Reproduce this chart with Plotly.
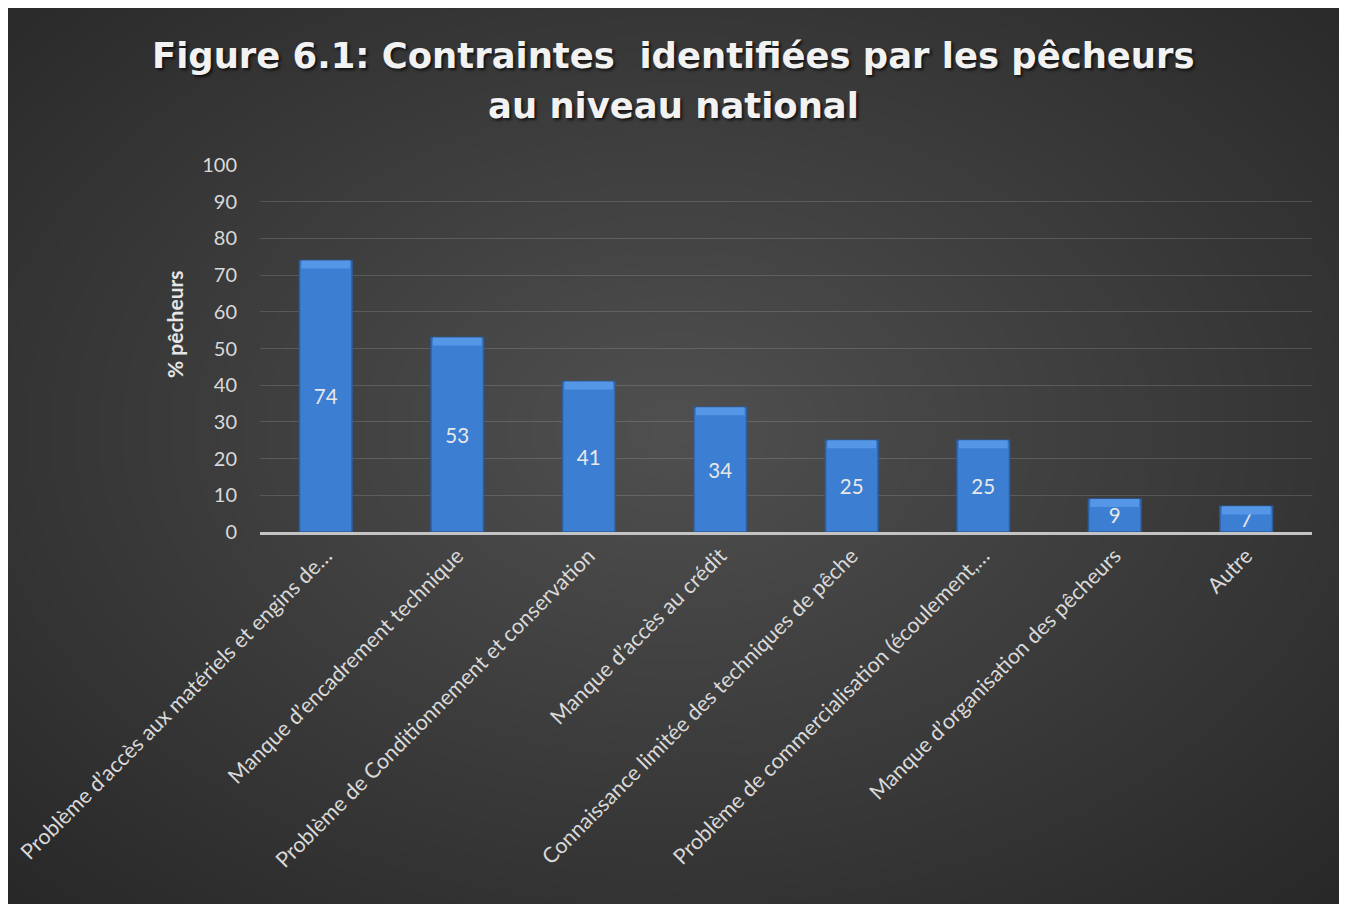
import plotly.graph_objects as go

categories = [
    "Problème d’accès aux matériels et engins de…",
    "Manque d’encadrement technique",
    "Problème de Conditionnement et conservation",
    "Manque d’accès au crédit",
    "Connaissance limitée des techniques de pêche",
    "Problème de commercialisation (écoulement,…",
    "Manque d’organisation des pêcheurs",
    "Autre",
]
values = [74, 53, 41, 34, 25, 25, 9, 7]
y_ticks = [0, 10, 20, 30, 40, 50, 60, 70, 80, 90, 100]

# the page body adds an 8px white margin; the figure covers screen 8..1342 x 8..904
OFF = 8
W, H = 1334, 896
L, R, T, B = 252, 30, 157, 372
PW, PH = W - L - R, H - T - B


def sx(x):  # screen pixel -> paper x
    return (x - OFF - L) / PW


def sy(y):  # screen pixel -> paper y
    return (H - B - (y - OFF)) / PH


FONT = "Lato"
TXT = "#d9d9d9"

shapes = []
# radial gradient made of stacked translucent ellipses
cx, cy = 674, 430
rx, ry = 960, 660
N = 40
for k in range(N):
    s = 1 - k / N
    shapes.append(dict(type="circle", xref="paper", yref="paper",
                       x0=sx(cx - rx * s), x1=sx(cx + rx * s), y0=sy(cy + ry * s), y1=sy(cy - ry * s),
                       fillcolor="rgba(255,255,255,1)", opacity=0.0062, line=dict(width=0), layer="below"))

fig = go.Figure()
fig.add_trace(go.Bar(
    x=categories, y=values, width=0.4,
    marker=dict(color="#3c7ed2", line=dict(color="#2b5d9d", width=1.5)),
    text=[str(v) for v in values], textposition="inside", insidetextanchor="middle",
    constraintext="none", textangle=0,
    textfont=dict(family=FONT, size=20.5, color="#e8e8e8"),
    hoverinfo="skip",
))
fig.add_trace(go.Bar(
    x=categories, y=[2.2] * len(values), base=[v - 2.2 for v in values], width=0.37,
    marker=dict(color="#5597e6", line=dict(width=0)),
    hoverinfo="skip",
))

title_font = dict(family="DejaVu Sans", size=35.4, color="#f2f2f2", weight="bold",
                  shadow="2px 2px 3px rgba(0,0,0,0.7)")

fig.update_layout(
    width=W, height=H,
    margin=dict(l=L, r=R, t=T, b=B, autoexpand=False),
    paper_bgcolor="#272727", plot_bgcolor="rgba(0,0,0,0)",
    barmode="overlay", showlegend=False,
    shapes=shapes,
    xaxis=dict(
        tickangle=-45, tickfont=dict(family=FONT, size=21.5, color=TXT),
        showgrid=False, showline=True, linecolor="#c4c4c4", linewidth=2.5,
        ticks="", range=[-0.5, 7.5],
    ),
    yaxis=dict(
        range=[0, 100], tickvals=y_ticks, ticktext=[str(v) for v in y_ticks],
        tickfont=dict(family=FONT, size=20, color=TXT),
        showgrid=True, gridcolor="rgba(255,255,255,0.14)", gridwidth=1.2,
        zeroline=False, showline=False, ticks="", ticklabelstandoff=22,
    ),
    annotations=[
        dict(text="Figure 6.1: Contraintes  identifiées par les pêcheurs", showarrow=False,
             xref="paper", yref="paper", x=sx(673), y=sy(55), xanchor="center", yanchor="middle",
             font=title_font),
        dict(text="au niveau national", showarrow=False,
             xref="paper", yref="paper", x=sx(673), y=sy(106), xanchor="center", yanchor="middle",
             font=title_font),
        dict(text="<b>% pêcheurs</b>", textangle=-90, showarrow=False,
             xref="paper", yref="paper", x=sx(174), y=sy(324),
             xanchor="center", yanchor="middle",
             font=dict(family=FONT, size=21, color="#e6e6e6")),
    ],
)

fig.write_html("out.html")
